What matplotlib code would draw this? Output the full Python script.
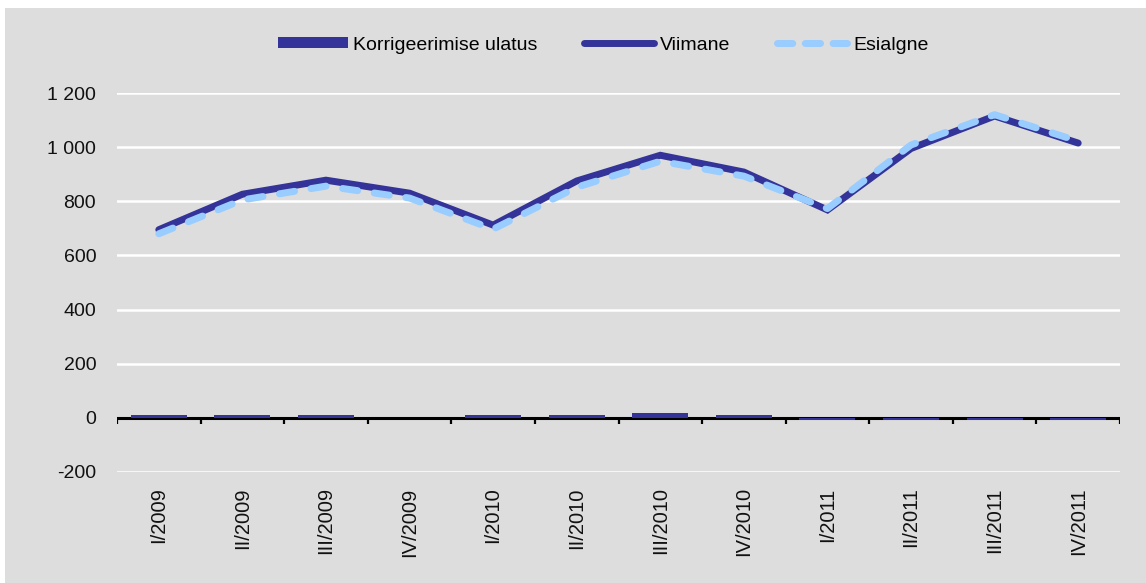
import matplotlib
matplotlib.use("Agg")
import matplotlib.pyplot as plt
from matplotlib.patches import Rectangle
from matplotlib.lines import Line2D
import numpy as np

plt.rcParams['font.family'] = ['Liberation Sans', 'DejaVu Sans']

categories = ["I/2009", "II/2009", "III/2009", "IV/2009",
              "I/2010", "II/2010", "III/2010", "IV/2010",
              "I/2011", "II/2011", "III/2011", "IV/2011"]
viimane = [695, 826, 878, 830, 712, 875, 970, 908, 768, 995, 1115, 1015]
esialgne = [680, 805, 856, 812, 697, 852, 948, 893, 773, 1008, 1120, 1022]
korrigeerimine = [10, 10, 10, 0, 10, 10, 18, 10, -8, -8, -8, -8]
yticks = [-200, 0, 200, 400, 600, 800, 1000, 1200]
ytick_labels = ["-200", "0", "200", "400", "600", "800", "1 000", "1 200"]

dark = "#333399"
light = "#99ccff"
bg = "#dddddd"

W, H = 1146, 583
fig = plt.figure(figsize=(W / 100, H / 100), dpi=100, facecolor=bg)
# thin white margins at top and left
fig.patches.append(Rectangle((0, 1 - 8 / H), 1, 8 / H, transform=fig.transFigure,
                             facecolor="white", edgecolor="none", zorder=-1))
fig.patches.append(Rectangle((0, 0), 5 / W, 1, transform=fig.transFigure,
                             facecolor="white", edgecolor="none", zorder=-1))

ax = fig.add_axes([117 / W, 1 - 472 / H, (1120 - 117) / W, (472 - 93) / H])
ax.set_facecolor(bg)
x = np.arange(len(categories))

ax.set_xlim(-0.5, len(categories) - 0.5)
ax.set_ylim(-200, 1200)
ax.set_yticks(yticks)
ax.set_yticklabels(ytick_labels, fontsize=14, color="#111111")
ax.yaxis.grid(True, color="white", linewidth=1.8, zorder=0)
ax.set_axisbelow(True)
ax.tick_params(axis="y", length=0, pad=15)
for s in ax.spines.values():
    s.set_visible(False)

ax.set_xticks(x)
ax.set_xticklabels(categories, rotation=90, fontsize=14.5, color="#111111", va="top")
ax.tick_params(axis="x", length=0, pad=11)

ax.bar(x, korrigeerimine, width=0.67, color=dark, zorder=3)
ax.axhline(0, color="black", linewidth=2.2, zorder=2)
bounds = np.arange(len(categories) + 1) - 0.5
ax.vlines(bounds, -24, 0, color="black", linewidth=1.6, zorder=2)

ax.plot(x, viimane, color=dark, linewidth=5.0, solid_capstyle="round",
        solid_joinstyle="miter", zorder=4)
le, = ax.plot(x, esialgne, color=light, linewidth=5.0, dash_capstyle="round",
              zorder=5)
le.set_dashes((2.2, 2.4))

handles = [
    Rectangle((0, 0), 1, 1, facecolor=dark, edgecolor="none"),
    Line2D([], [], color=dark, linewidth=5, solid_capstyle="round"),
    Line2D([], [], color=light, linewidth=5, dash_capstyle="round", dashes=(2.2, 1.8)),
]
leg = fig.legend(handles, ["Korrigeerimise ulatus", "Viimane", "Esialgne"],
                 loc="center", bbox_to_anchor=(603 / W, 1 - 45 / H), ncol=3,
                 frameon=False, fontsize=14, handlelength=3.6, handleheight=0.55,
                 handletextpad=0.3, columnspacing=2.4)

fig.savefig("out.png", dpi=100, facecolor=bg)
